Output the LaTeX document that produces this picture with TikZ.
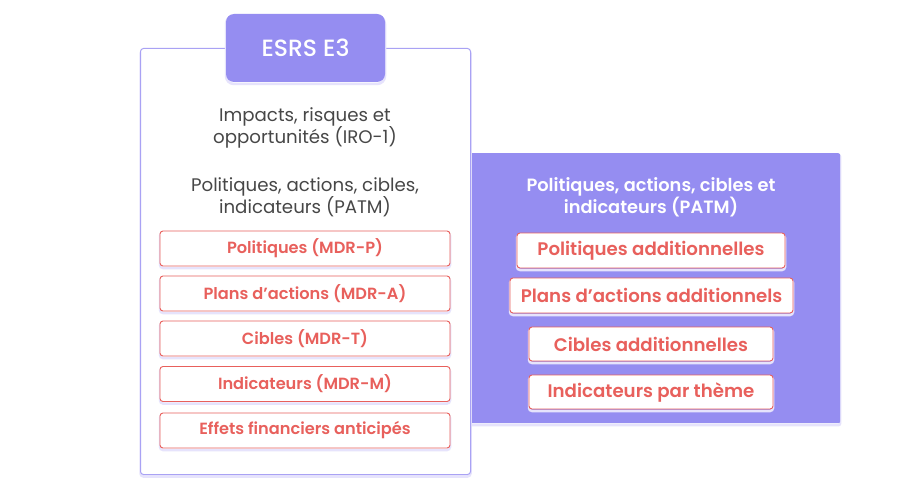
\documentclass[tikz,border=0pt]{standalone}
\usepackage{fontspec}
\setmainfont{Poppins}[BoldFont={Poppins SemiBold}]
\newfontfamily\popmed{Poppins Medium}
\definecolor{purp}{HTML}{958DF1}
\definecolor{lav}{HTML}{A9A2F4}
\definecolor{shad}{HTML}{E6E3FC}
\definecolor{redc}{HTML}{E8605C}
\definecolor{txt}{HTML}{474747}
\tikzset{
  softshadow/.style={preaction={draw=shad, line width=2.5pt, transform canvas={yshift=-2pt}}},
  redbox/.style={draw=redc, line width=0.9pt, fill=white, rounded corners=3pt, text=redc, font=\bfseries\fontsize{16.2}{19}\selectfont, inner sep=0pt, minimum height=35, softshadow},
  leftred/.style={redbox, minimum width=290},
  rightred/.style={redbox, font=\bfseries\fontsize{18.2}{21}\selectfont},
  plain/.style={align=center, text=txt, font=\fontsize{18.2}{22}\selectfont}
}
\begin{document}
\begin{tikzpicture}[x=1pt,y=-1pt]
\useasboundingbox[fill=white] (0,0) rectangle (900,500);
% right purple panel
\node[fill=purp, rounded corners=2pt, minimum width=380, minimum height=270, inner sep=0pt, anchor=north west, softshadow] (rpanel) at (460,153) {};
% left white panel
\node[draw=lav, line width=1pt, fill=white, rounded corners=3pt, minimum width=330, minimum height=426, inner sep=0pt, anchor=north west, softshadow] (lpanel) at (140,48) {};
% tab
\node[fill=purp, rounded corners=8pt, minimum width=159, minimum height=68, inner sep=0pt, text=white, font=\popmed\fontsize{23.5}{26}\selectfont, softshadow] (tab) at (305.5,48) {ESRS E3};
% left texts
\node[plain] (iro) at (305,127.5) {Impacts, risques et\\opportunités (IRO-1)};
\node[plain] (patm) at (305,197) {Politiques, actions, cibles,\\indicateurs (PATM)};
\node[leftred] (p1) at (305,248.5) {Politiques (MDR-P)};
\node[leftred] (p2) at (305,293.5) {Plans d’actions (MDR-A)};
\node[leftred] (p3) at (305,338.5) {Cibles (MDR-T)};
\node[leftred] (p4) at (305,384) {Indicateurs (MDR-M)};
\node[leftred] (p5) at (305,430.5) {Effets financiers anticipés};
% right texts
\node[align=center, text=white, font=\bfseries\fontsize{17.8}{22.5}\selectfont] (rpatm) at (651,197.5) {Politiques, actions, cibles et\\indicateurs (PATM)};
\node[rightred, minimum width=268] (r1) at (651,250.5) {Politiques additionnelles};
\node[rightred, minimum width=283] (r2) at (651.5,295.5) {Plans d’actions additionnels};
\node[rightred, minimum width=244, minimum height=34] (r3) at (651,344) {Cibles additionnelles};
\node[rightred, minimum width=244, minimum height=34] (r4) at (651,392) {Indicateurs par thème};
\end{tikzpicture}
\end{document}
